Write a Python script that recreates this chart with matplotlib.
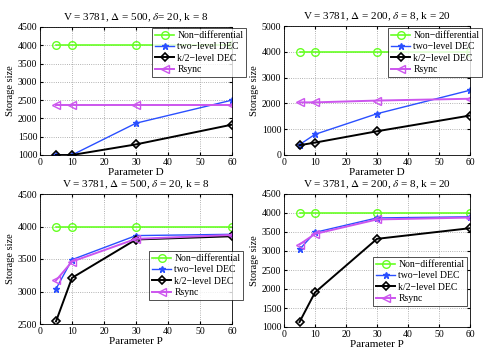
import matplotlib
matplotlib.use('Agg')
import matplotlib.pyplot as plt

plt.rcParams['font.family'] = ['Liberation Serif', 'DejaVu Serif']
plt.rcParams['mathtext.fontset'] = 'stix'

# Parámetros (eje x)
x = [5, 10, 30, 60]

# Panel superior izquierdo: V=3781, Delta=500, delta=20, k=8, parámetro D
tl_nondiff = [4000, 4000, 4000, 4000]
tl_two = [1000, 1000, 1870, 2500]
tl_k2 = [1000, 1000, 1290, 1830]
tl_rsync = [2380, 2380, 2380, 2380]

# Panel superior derecho: V=3781, Delta=200, delta=8, k=20, parámetro D
tr_nondiff = [4000, 4000, 4000, 4000]
tr_two = [400, 800, 1600, 2510]
tr_k2 = [380, 480, 920, 1530]
tr_rsync = [2040, 2040, 2110, 2180]

# Panel inferior izquierdo: parámetro P
bl_nondiff = [4000, 4000, 4000, 4000]
bl_two = [3040, 3490, 3860, 3880]
bl_k2 = [2540, 3210, 3800, 3850]
bl_rsync = [3170, 3460, 3810, 3870]

# Panel inferior derecho: parámetro P
br_nondiff = [4000, 4000, 4000, 4000]
br_two = [3040, 3490, 3870, 3900]
br_k2 = [1130, 1910, 3320, 3600]
br_rsync = [3170, 3450, 3830, 3880]

labels = ['Non\u2212differential', 'two\u2212level DEC', 'k/2\u2212level DEC', 'Rsync']

W, H = 498, 354
fig = plt.figure(figsize=(W / 100, H / 100), dpi=100)


def px_axes(x0, y0, x1, y1):
    return fig.add_axes([x0 / W, 1 - y1 / H, (x1 - x0) / W, (y1 - y0) / H])


def panel(ax, nondiff, two, k2, rsync, title, xlabel, ylim, yticks, leg_box):
    ax.plot(x, nondiff, color='#66ff22', marker='o', mfc='none', ms=5.5, lw=1.2, mew=1.0)
    ax.plot(x, two, color='#2a4fff', marker='*', ms=5, lw=1.0)
    ax.plot(x, k2, color='black', marker='D', mfc='none', ms=4.5, lw=1.4, mew=1.2)
    ax.plot(x, rsync, color='#cc55ee', marker='<', mfc='none', ms=6, lw=1.4, mew=1.0)
    ax.set_xlim(0, 60)
    ax.set_ylim(*ylim)
    ax.set_xticks(range(0, 61, 10))
    ax.set_yticks(yticks)
    ax.tick_params(labelsize=7, direction='in', length=2.5, pad=2, top=True, right=True)
    ax.grid(True, linestyle=':', color='#999999', lw=0.6)
    ax.set_title(title, fontsize=8, pad=5)
    ax.set_xlabel(xlabel, fontsize=8, labelpad=1)
    ax.set_ylabel('Storage size', fontsize=7.5, labelpad=2)
    for s in ax.spines.values():
        s.set_linewidth(0.6)
    bx0, by0, bx1, by1 = leg_box
    leg = ax.legend(labels, loc='upper left', bbox_to_anchor=(bx0 / W, 1 - by0 / H),
                    bbox_transform=fig.transFigure, fontsize=7, frameon=True,
                    fancybox=False, edgecolor='black', borderpad=0.3, labelspacing=0.25,
                    handlelength=2.0, handletextpad=0.3, borderaxespad=0)
    leg.get_frame().set_linewidth(0.6)


ax1 = px_axes(40, 27, 232, 155)
panel(ax1, tl_nondiff, tl_two, tl_k2, tl_rsync,
      r'V = 3781, $\Delta$ = 500, $\delta$= 20, k = 8', 'Parameter D',
      (1000, 4500), range(1000, 4501, 500), (152, 28, 230, 73))

ax2 = px_axes(284, 26, 470, 155)
panel(ax2, tr_nondiff, tr_two, tr_k2, tr_rsync,
      r'V = 3781, $\Delta$ = 200, $\delta$ = 8, k = 20', 'Parameter D',
      (0, 5000), range(0, 5001, 1000), (388, 28, 477, 70))

ax3 = px_axes(40, 194, 232, 324)
panel(ax3, bl_nondiff, bl_two, bl_k2, bl_rsync,
      r'V = 3781, $\Delta$ = 500, $\delta$ = 20, k = 8', 'Parameter P',
      (2500, 4500), range(2500, 4501, 500), (149, 251, 227, 295))

ax4 = px_axes(284, 194, 470, 327)
panel(ax4, br_nondiff, br_two, br_k2, br_rsync,
      r'V = 3781, $\Delta$ = 200, $\delta$ = 8, k = 20', 'Parameter P',
      (1000, 4500), range(1000, 4501, 500), (373, 257, 468, 305))

fig.savefig('out.png', dpi=100)
